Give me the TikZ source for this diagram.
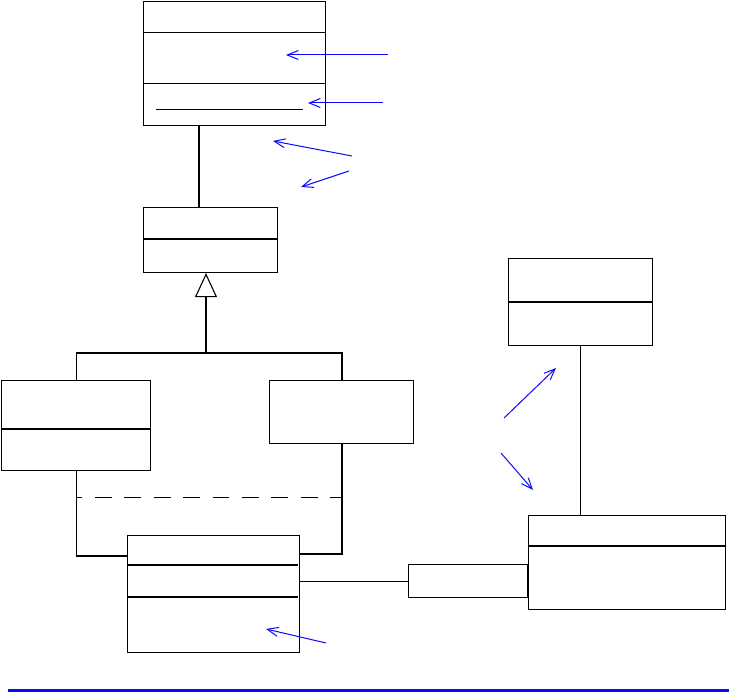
\documentclass[tikz,border=0pt]{standalone}
\usetikzlibrary{arrows.meta,positioning}
\definecolor{noteblue}{RGB}{10,10,250}

\tikzset{
  classbox/.style={draw, line width=1.1pt, inner sep=0pt, anchor=north west},
  wire/.style={line width=1.1pt},
  note/.style={noteblue, line width=1pt, -{Straight Barb[length=11pt,width=9pt]}}
}

\begin{document}
\begin{tikzpicture}[x=1pt, y=-1pt]
	\useasboundingbox (0,0) rectangle (729,693);

	% classes
	\node[classbox, minimum width=182pt, minimum height=124pt] (top) at (143,0.6) {};
	\node[classbox, minimum width=134pt, minimum height=65pt] (gen) at (143,207) {};
	\node[classbox, minimum width=149pt, minimum height=90pt] (childa) at (0.6,380) {};
	\node[classbox, minimum width=144pt, minimum height=63pt] (childb) at (269,380) {};
	\node[classbox, minimum width=172pt, minimum height=117pt] (assoc) at (127,535) {};
	\node[classbox, minimum width=144pt, minimum height=87pt] (target) at (508,258) {};
	\node[classbox, minimum width=197pt, minimum height=94pt] (source) at (528,515) {};
	\node[classbox, minimum width=119pt, minimum height=33pt, anchor=north east] (qual) at (528,564) {};

	% compartments
	\draw[wire] ([yshift=-32pt]top.north west) -- ([yshift=-32pt]top.north east);
	\draw[wire] ([yshift=-83pt]top.north west) -- ([yshift=-83pt]top.north east);
	\draw[wire] ([xshift=13pt,yshift=-109pt]top.north west) -- ([xshift=-23pt,yshift=-109pt]top.north east);
	\draw[wire] ([yshift=-32pt]gen.north west) -- ([yshift=-32pt]gen.north east);
	\draw[wire] ([yshift=-49pt]childa.north west) -- ([yshift=-49pt]childa.north east);
	\draw[wire] ([yshift=-30pt]assoc.north west) -- ([yshift=-30pt,xshift=-2pt]assoc.north east);
	\draw[wire] ([yshift=-62pt]assoc.north west) -- ([yshift=-62pt,xshift=-2pt]assoc.north east);
	\draw[wire] ([yshift=-44pt]target.north west) -- ([yshift=-44pt]target.north east);
	\draw[wire] ([yshift=-31pt]source.north west) -- ([yshift=-31pt]source.north east);

	% links
	\coordinate (fork) at (206,353);
	\draw[wire] ([xshift=56pt]top.south west) -- ([xshift=56pt]gen.north west);
	\draw[wire, -{Triangle[open, length=24pt, width=22pt, line width=1.1pt]}] (fork) -- (fork |- gen.south);
	\draw[wire] ([xshift=76pt]childa.north west) |- (fork) -| ([xshift=73pt]childb.north west);
	\draw[wire] ([xshift=76pt]childa.south west) |- ([yshift=-21pt]assoc.north west);
	\draw[wire] ([xshift=73pt]childb.south west) |- ([yshift=-19pt]assoc.north east);
	\draw[wire, dash pattern=on 16.7pt off 12.7pt, dash phase=11pt] ([xshift=76pt,yshift=-26pt]childa.south west) -- ([xshift=73pt,yshift=-53pt]childb.south west);
	\draw[wire] (assoc.east |- qual.west) -- (qual.west);
	\draw[wire] (target.south) -- (target.south |- source.north);

	% notes
	\coordinate (n1) at (388,55);
	\coordinate (n2) at (383,103);
	\coordinate (n3) at (352,156);
	\coordinate (n4) at (349,171);
	\coordinate (n5) at (504,418);
	\coordinate (n6) at (501,453);
	\coordinate (n7) at (326,643);
	\draw[note] (n1) -- (286,55);
	\draw[note] (n2) -- (308,103);
	\draw[note] (n3) -- (273,141);
	\draw[note] (n4) -- (301,187);
	\draw[note] (n5) -- (556,368);
	\draw[note] (n6) -- (533,490);
	\draw[note] (n7) -- (266,629);

	\draw[noteblue, line width=2.8pt] (8,690.5) -- (729,690.5);
\end{tikzpicture}
\end{document}
